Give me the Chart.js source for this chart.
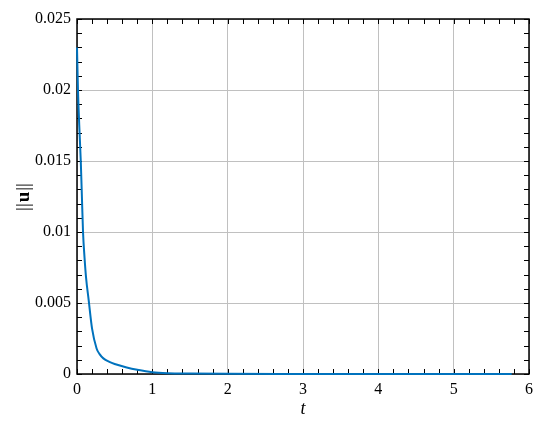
<!DOCTYPE html>
<html>
<head>
<meta charset="utf-8">
<script src="https://cdn.jsdelivr.net/npm/chart.js@4.4.1/dist/chart.umd.min.js"></script>
<style>
  html, body { margin: 0; padding: 0; background: #fff; }
  #wrap { width: 550px; height: 423px; }
</style>
</head>
<body>
<div id="wrap"><canvas id="normChart"></canvas></div>
<script>
// values
const tValues = [0, 0.013, 0.03, 0.05, 0.065, 0.08, 0.1, 0.12, 0.155, 0.2, 0.26, 0.3, 0.35, 0.43, 0.5, 0.66, 0.8, 1.0, 1.2, 1.5, 2.0, 3.0, 4.0, 5.0, 5.77];
const uNorm   = [0.0230, 0.0200, 0.0175, 0.0150, 0.0125, 0.0100, 0.0082, 0.0068, 0.0052, 0.0032, 0.0018, 0.0014, 0.0011, 0.00085, 0.00070, 0.00046, 0.00030, 0.00013, 0.00006, 0.00003, 0.00001, 0.000003, 0.000001, 0, 0];
const xTicks = [0, 1, 2, 3, 4, 5, 6];
const yTicks = [0, 0.005, 0.01, 0.015, 0.02, 0.025];

const serif = '"Liberation Serif", "DejaVu Serif", serif';

// MATLAB style box, inward ticks on all sides and axis labels
const axesBox = {
  id: 'axesBox',
  beforeDatasetsDraw(chart) {
    const { ctx, chartArea: a, scales: { x, y } } = chart;
    ctx.save();
    ctx.strokeStyle = '#000';
    ctx.lineWidth = 1;
    let len = 5;
    ctx.beginPath();
    for (let i = 0; i <= 30; i++) {
      let px = Math.round(x.getPixelForValue(i * 0.2)) + 0.5;
      ctx.moveTo(px, a.bottom); ctx.lineTo(px, a.bottom - len);
      ctx.moveTo(px, a.top); ctx.lineTo(px, a.top + len);
    }
    for (let i = 0; i <= 25; i++) {
      let py = Math.round(y.getPixelForValue(i * 0.001)) + 0.5;
      ctx.moveTo(a.left, py); ctx.lineTo(a.left + len, py);
      ctx.moveTo(a.right, py); ctx.lineTo(a.right - len, py);
    }
    ctx.stroke();
    ctx.lineWidth = 1.5;
    ctx.strokeRect(a.left, a.top, a.right - a.left, a.bottom - a.top);
    ctx.restore();
  },
  afterDraw(chart) {
    const { ctx, chartArea: a } = chart;
    ctx.save();
    ctx.fillStyle = '#000';
    ctx.textBaseline = 'middle';
    ctx.textAlign = 'center';
    ctx.font = 'italic 18px ' + serif;
    ctx.fillText('t', (a.left + a.right) / 2, 409);

    // y label ||u|| with bold u
    ctx.translate(24, (a.top + a.bottom) / 2);
    ctx.rotate(-Math.PI / 2);
    ctx.textAlign = 'left';
    let bars = '||';
    ctx.font = '19px ' + serif;
    let wb = ctx.measureText(bars).width + 1;
    ctx.font = 'bold 19px ' + serif;
    let wu = ctx.measureText('u').width + 1;
    let x0 = -(2 * wb + wu) / 2;
    ctx.font = '19px ' + serif;
    ctx.fillText(bars, x0, 0);
    ctx.font = 'bold 19px ' + serif;
    ctx.fillText('u', x0 + wb, 0);
    ctx.font = '19px ' + serif;
    ctx.fillText(bars, x0 + wb + wu, 0);
    ctx.restore();
  }
};

new Chart(document.getElementById('normChart').getContext('2d'), {
  type: 'line',
  data: {
    datasets: [{
      data: tValues.map((t, i) => ({ x: t, y: uNorm[i] })),
      borderColor: '#0072BD',
      borderWidth: 2,
      pointRadius: 0,
      cubicInterpolationMode: 'monotone',
      clip: 4
    }]
  },
  options: {
    responsive: true,
    maintainAspectRatio: false,
    animation: false,
    layout: { padding: { top: 19, right: 21, left: 0, bottom: 0 } },
    plugins: { legend: { display: false }, tooltip: { enabled: false } },
    scales: {
      x: {
        type: 'linear',
        min: 0, max: 6,
        afterFit(s) { s.height = 49; },
        afterBuildTicks(s) { s.ticks = xTicks.map(v => ({ value: v })); },
        grid: { color: '#c0c0c0', lineWidth: 1, drawTicks: false },
        border: { display: false },
        ticks: { padding: 6, color: '#000', font: { family: serif, size: 16 }, maxRotation: 0 }
      },
      y: {
        min: 0, max: 0.025,
        afterFit(s) { s.width = 77; },
        afterBuildTicks(s) { s.ticks = yTicks.map(v => ({ value: v })); },
        grid: { color: '#c0c0c0', lineWidth: 1, drawTicks: false },
        border: { display: false },
        ticks: {
          padding: 6, color: '#000', font: { family: serif, size: 16 },
          callback: v => String(+v.toFixed(3))
        }
      }
    }
  },
  plugins: [axesBox]
});
</script>
</body>
</html>
